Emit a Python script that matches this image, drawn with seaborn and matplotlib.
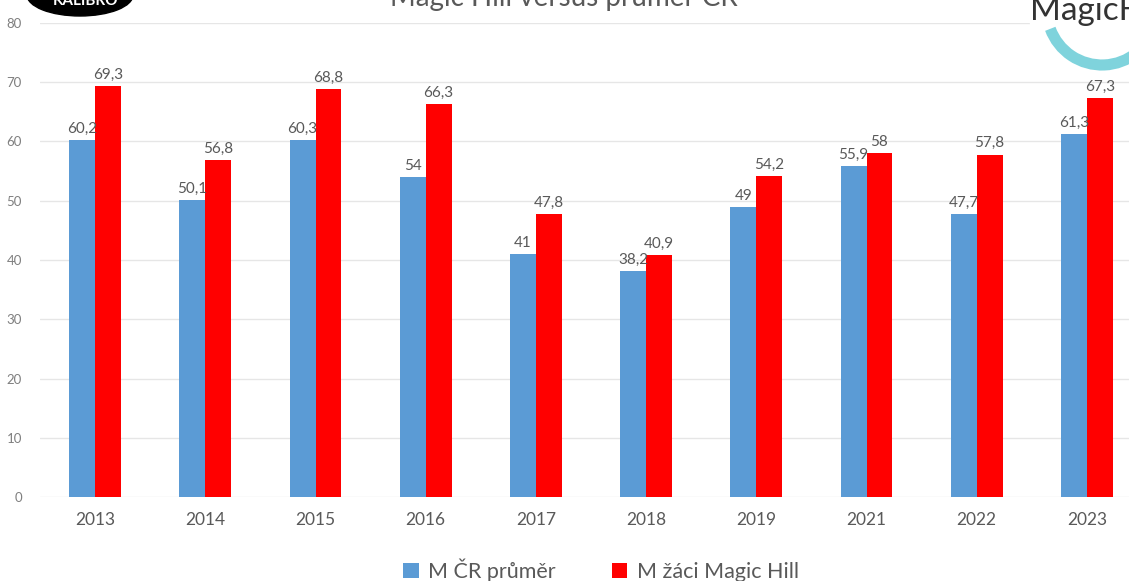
import pandas as pd
import seaborn as sns
import matplotlib.pyplot as plt
from matplotlib.patches import Ellipse, Arc, Rectangle

# data
years = ['2013', '2014', '2015', '2016', '2017', '2018', '2019', '2021', '2022', '2023']
cr_prumer = [60.2, 50.1, 60.3, 54, 41, 38.2, 49, 55.9, 47.7, 61.3]
magic_hill = [69.3, 56.8, 68.8, 66.3, 47.8, 40.9, 54.2, 58, 57.8, 67.3]
series_names = ['M ČR průměr', 'M žáci Magic Hill']

df = pd.DataFrame({
    'year': years * 2,
    'value': cr_prumer + magic_hill,
    'series': [series_names[0]] * len(years) + [series_names[1]] * len(years),
})

sns.set_theme(style='white')
plt.rcParams['font.family'] = ['Lato', 'DejaVu Sans']

W, H = 1129, 581
fig = plt.figure(figsize=(W / 100, H / 100), dpi=100)
# axes placed in pixel terms: x from 40 to 1142 (cropped), y from 23 to 497
ax = fig.add_axes([40 / W, (H - 497) / H, 1102 / W, (497 - 23) / H])

sns.barplot(data=df, x='year', y='value', hue='series',
            palette=['#5B9BD5', '#FF0000'], width=0.47, gap=0,
            saturation=1, linewidth=0, ax=ax, legend=True)

def fmt(v):
    return str(int(v)) if float(v).is_integer() else f'{v}'.replace('.', ',')

for cont, vals in zip(ax.containers, [cr_prumer, magic_hill]):
    ax.bar_label(cont, labels=[fmt(v) for v in vals], padding=3,
                 fontsize=11, color='#595959')

ax.set_xlim(-0.5, 9.5)
ax.set_ylim(0, 80)
ax.set_yticks(range(0, 81, 10))
ax.yaxis.grid(True, color='#e6e6e6', linewidth=1)
ax.set_axisbelow(True)
for s in ax.spines.values():
    s.set_visible(False)
ax.tick_params(axis='x', length=0, pad=11, labelsize=12.5, labelcolor='#595959')
ax.tick_params(axis='y', length=0, pad=13, labelsize=9.5, labelcolor='#7f7f7f')
ax.set_xlabel('')
ax.set_ylabel('')

handles, labels = ax.get_legend_handles_labels()
ax.get_legend().remove()
fig.legend(handles, labels, loc='center', bbox_to_anchor=(601 / W, 1 - 570 / H),
           ncol=2, frameon=False, fontsize=15.5, labelcolor='#595959',
           handlelength=0.7, handleheight=0.7, handletextpad=0.45,
           columnspacing=2.6)

# overlay in pixel coordinates for the cropped title and logos
ov = fig.add_axes([0, 0, 1, 1], zorder=5)
ov.set_xlim(0, W)
ov.set_ylim(H, 0)
ov.axis('off')
ov.patch.set_alpha(0)

ov.text(564, 6, 'Magic Hill versus průměr ČR', ha='center', va='baseline',
        fontsize=20, color='#595959')

# KALIBRO logo (cut off at top)
ov.add_patch(Ellipse((80, -5), 106, 42, color='black'))
ov.text(85, 5, 'KALIBRO', ha='center', va='baseline', fontsize=11,
        fontweight='bold', color='white')

# Magic Hill logo (cut off at top/right)
ov.add_patch(Rectangle((1030, -5), 110, 75, color='white'))
ov.add_patch(Arc((1102, 10), 110, 110, theta1=15, theta2=160,
                 color='#7FD3DC', linewidth=8))
ov.text(1030, 20, 'MagicHill', ha='left', va='baseline', fontsize=24,
        color='#333333', clip_on=True)

fig.savefig('out.png', dpi=100)
